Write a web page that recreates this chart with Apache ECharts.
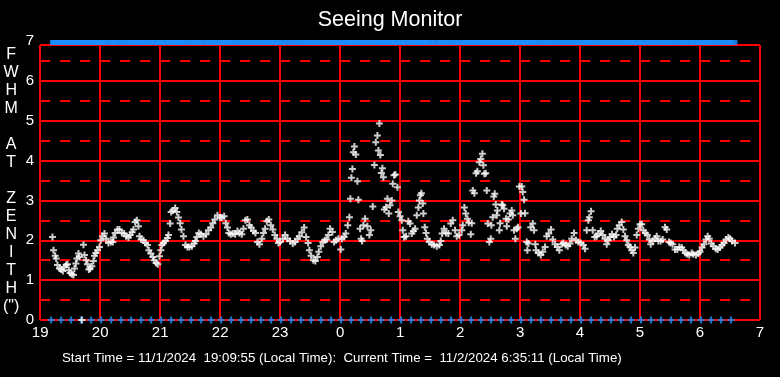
<!DOCTYPE html>
<html>
<head>
<meta charset="utf-8">
<script src="https://cdn.jsdelivr.net/npm/echarts@6/dist/echarts.min.js"></script>
<style>
    html, body { margin: 0; padding: 0; background: #000; }
    #chart { width: 780px; height: 377px; }
</style>
</head>
<body>
<div id="chart"></div>
<script>
// seeing samples: minutes after 19:00 and FWHM at zenith (arcsec)
const minutes = [
    12.3, 13.3, 15, 16, 17.3, 19.3, 21, 22.7, 24, 26, 27.3, 28.7, 30, 31.7, 33.3, 34.3, 35.7, 36.7, 38.3, 39.3,
    41.7, 43.3, 44.3, 46, 47.3, 48.7, 50, 51.7, 53.3, 54.3, 55.7, 57.3, 59.3, 60.7, 62.3, 64.3, 66, 68.3, 70.7, 72.7,
    73.3, 75, 77.3, 79.3, 81.7, 84, 86, 88.3, 90, 92, 93.3, 95, 96.7, 98.3, 99.3, 101, 103.3, 105.3, 107.3, 108.7,
    110.7, 112.7, 114, 116, 117.7, 119.3, 120.7, 121.7, 123.3, 125.3, 127.3, 128.3, 130, 131, 132.7, 135, 136.7, 138.3, 140, 141.3,
    143.3, 145.3, 147.3, 149.3, 151.7, 154, 155.3, 156.7, 158.7, 160.7, 163.3, 166, 168.3, 170.7, 172.7, 174.7, 177.3, 180, 181.7, 184,
    185.7, 187.3, 188.7, 190.7, 192.7, 195, 197.3, 199.3, 201.7, 203.3, 205.3, 207.3, 209.3, 211, 213.3, 215.3, 217.3, 219.3, 221.7, 223.3,
    225, 226.7, 228.7, 230.7, 232.7, 234.7, 236.7, 238.3,
    240, 242.7, 245, 247.3, 250, 252.7, 255, 257.3, 259.3, 261.7, 264, 266, 268, 269.3, 271, 273.3, 275.3, 277.3, 278.7, 280.7,
    282.7, 284.7, 286.7, 288.3, 290, 292.3, 294, 296, 298.3, 300.7, 301.7, 304, 305.7, 307.7, 309.3, 310.3, 311.3, 312.3, 313.3, 314.3,
    315.7, 317.3, 318.3, 320, 321, 322, 323.3, 325, 327.3, 329.3, 330.7, 332.7, 334.3, 335.7, 337.3, 339.3, 338.3, 340.3, 341.3, 342.3,
    343.3, 344.3, 346, 347.3, 348.7, 350, 351.7, 352.7, 354, 355.3, 357.3, 358.3, 360, 361.7, 362.7, 364, 366, 368.3, 370, 371.7,
    373.3, 375, 376.7, 378.3, 379.3, 380.3, 381.3, 382.7, 383.3, 384.7, 386, 387.3, 389.3, 391.7, 394, 396.7, 399.3, 400.7, 402, 404,
    406, 408.3, 410.7, 412.7, 415, 416.7, 419, 421.7, 422.7, 424.3, 425.7, 427.3, 428.7, 430.7, 431.7, 432.7, 434.3, 436, 437.3, 439.3,
    440.7, 442.3, 443.3, 444.3, 445.7, 446.7, 447.7, 449.3, 450.7, 451.3, 452.7, 453.7, 454.7, 455.7, 456.7, 457.3, 459.3, 460, 461.7, 462.7,
    464, 466, 466.7, 468.3, 470, 471.7, 472.7, 474, 475.3, 476.7, 478, 479.3,
    481, 481.7, 482.7, 484, 485, 486.7, 487.3, 488.3, 490.7, 492.7, 494, 495.3, 496, 498.3, 500.7, 502.7, 505, 506.7, 508.7, 511,
    512.7, 515, 517.3, 519.3, 521.7, 523.3, 525.7, 527.7, 530, 531.7, 534, 536, 538.3, 540.7, 543.3, 545, 546.7, 548.3, 549.3, 551,
    552.7, 554.7, 556.7, 558.3, 560.7, 562.7, 565, 566.7, 568.3, 570, 572, 574, 576, 577.3, 579.3, 581.7, 583.3, 585, 586.7, 588.3,
    590, 591.7, 593.3, 595, 596.7, 598.3, 600, 601.7, 603.3, 605.3, 607.3, 609.3, 610.7, 612.7, 615, 616.7, 618.3, 620.7, 622.7, 625,
    626.7, 629, 630.7, 632.7, 635, 637.3, 639.3, 641.7, 643.3, 645.3, 647.3, 649.3, 651.7, 653.3, 656, 658.3, 660, 662, 664, 666,
    667.7, 669.3, 671.3, 673.3, 675.7, 677.7, 680, 682, 684, 686, 688.3, 690, 692, 695
];
const fwhm = [
    2.08, 1.75, 1.61, 1.54, 1.38, 1.29, 1.27, 1.23, 1.33, 1.38, 1.4, 1.25, 1.18, 1.15, 1.13, 1.29, 1.42, 1.54, 1.67, 1.58,
    0, 1.89, 1.63, 1.5, 1.4, 1.27, 1.29, 1.35, 1.48, 1.61, 1.68, 1.75, 1.83, 2.0, 2.1, 2.17, 2.04, 1.93, 1.96, 1.96,
    2.07, 2.18, 2.27, 2.27, 2.18, 2.17, 2.1, 2.07, 2.13, 2.2, 2.27, 2.46, 2.5, 2.35, 2.1, 2.02, 2.0, 1.93, 1.88, 1.75,
    1.67, 1.58, 1.5, 1.43, 1.4, 1.6, 1.75, 1.88, 1.93, 1.98, 2.06, 2.13, 2.42, 2.71, 2.75, 2.81, 2.71, 2.57, 2.43, 2.27,
    2.1, 1.88, 1.83, 1.83, 1.85, 1.92, 1.98, 2.08, 2.18, 2.15, 2.1, 2.15, 2.25, 2.32, 2.43, 2.52, 2.63, 2.57, 2.57, 2.6,
    2.43, 2.32, 2.18, 2.15, 2.17, 2.15, 2.23, 2.18, 2.15, 2.29, 2.5, 2.52, 2.38, 2.32, 2.23, 2.18, 1.96, 1.9, 2.04, 2.18,
    2.29, 2.48, 2.52, 2.38, 2.27, 2.13, 2.04, 1.93,
    1.96, 2.04, 2.13, 2.04, 1.98, 1.92, 1.96, 2.04, 2.1, 2.2, 2.32, 2.08, 1.93, 1.75, 1.61, 1.5, 1.48, 1.58, 1.71, 1.85,
    1.96, 2.0, 2.02, 2.13, 2.29, 2.21, 1.96, 2.0, 2.04, 1.77, 2.04, 2.08, 2.17, 2.38, 2.58, 3.04, 3.57, 3.79, 4.21, 4.35,
    4.15, 3.48, 3.02, 2.29, 2.04, 1.98, 2.38, 2.54, 2.35, 2.13, 2.25, 2.85, 3.89, 4.46, 4.63, 4.93, 4.25, 4.14, 3.69, 3.81,
    3.58, 2.77, 2.83, 3.04, 2.67, 2.88, 3.0, 3.42, 3.63, 3.65, 3.33, 2.71, 2.6, 2.5, 2.25, 2.08, 2.1, 2.48, 2.42, 2.17,
    2.23, 2.29, 2.63, 2.82, 3.0, 3.13, 3.18, 2.92, 2.67, 2.33, 2.18, 2.04, 1.96, 1.9, 1.88, 1.85, 1.88, 1.98, 2.17, 2.29,
    2.18, 2.17, 2.42, 2.5, 2.25, 2.1, 2.13, 2.25, 2.38, 2.82, 2.67, 2.54, 2.44, 2.15, 2.43, 3.25, 3.18, 3.68, 3.73, 3.96,
    4.04, 4.17, 3.88, 3.67, 3.68, 3.25, 2.42, 1.96, 2.04, 2.38, 2.58, 3.1, 3.17, 2.9, 2.63, 2.75, 2.25, 2.43, 2.9, 2.88,
    2.79, 2.54, 2.35, 2.52, 2.67, 2.75, 2.63, 2.25, 2.04, 2.29, 2.33, 3.35,
    2.67, 3.35, 3.21, 3.02, 2.68, 1.96, 1.75, 1.92, 2.33, 2.42, 2.25, 1.9, 1.75, 1.68, 1.63, 1.71, 1.83, 2.1, 2.17, 2.27,
    2.02, 1.9, 1.83, 1.75, 1.9, 1.93, 1.88, 1.85, 1.92, 2.04, 2.18, 2.0, 1.96, 1.93, 1.88, 1.79, 2.25, 2.5, 2.58, 2.73,
    2.25, 2.08, 2.1, 2.17, 2.23, 2.13, 2.04, 1.9, 2.0, 2.08, 2.15, 2.08, 2.13, 2.29, 2.38, 2.46, 2.27, 2.1, 2.0, 1.88,
    1.83, 1.75, 1.68, 1.82, 2.13, 2.29, 2.4, 2.4, 2.25, 2.18, 2.13, 2.02, 1.9, 1.98, 2.04, 2.1, 1.98, 1.98, 2.02, 2.33,
    2.27, 1.96, 1.93, 1.9, 1.77, 1.77, 1.83, 1.82, 1.75, 1.68, 1.65, 1.63, 1.68, 1.65, 1.63, 1.67, 1.71, 1.82, 1.9, 2.02,
    2.1, 2.04, 1.92, 1.85, 1.79, 1.77, 1.82, 1.88, 1.93, 2.02, 2.07, 2.04, 1.98, 1.93
];
// blue status crosses on the zero line (minutes after 19:00)
const zeroMarks = [
    11, 21, 31, 41, 51, 61, 71, 81, 91, 101, 111, 121, 131, 141, 151, 161, 171, 181, 191, 201,
    211, 221, 231, 241, 251, 261, 271, 281, 291, 301, 311, 321, 331, 341, 351, 361, 371, 381, 391, 401,
    411, 421, 431, 441, 451, 461, 471, 481, 491, 501, 511, 521, 531, 541, 551, 561, 571, 581, 591, 601,
    611, 621, 631, 641, 651, 661, 671, 681, 691
];
const hourTicks = [19, 20, 21, 22, 23, 24, 25, 26, 27, 28, 29, 30, 31];
const solidLevels = [0, 1, 2, 3, 4, 5, 6, 6.9];
const dashedLevels = [0.5, 1.5, 2.5, 3.5, 4.5, 5.5, 6.5];
const topLevel = 7;

const RED = '#ff0000';
const BLUE = '#1e90ff';
const FONT = 'Liberation Sans, Arial, sans-serif';
const PLUS = 'path://M2.5,0H4.5V2.5H7V4.5H4.5V7H2.5V4.5H0V2.5H2.5Z';

const toHour = m => 19 + m / 60;

const gridLines = [];
solidLevels.forEach(v => gridLines.push({ yAxis: v, lineStyle: { color: RED, width: 2, type: 'solid' } }));
dashedLevels.forEach(v => gridLines.push({ yAxis: v, lineStyle: { color: RED, width: 2, type: [10, 10] } }));
hourTicks.forEach(h => gridLines.push([
    { coord: [h, 0], lineStyle: { color: RED, width: 2, type: 'solid' } },
    { coord: [h, 6.9] }
]));

const chart = echarts.init(document.getElementById('chart'));
chart.setOption({
    backgroundColor: '#000',
    animation: false,
    title: [{
        text: 'Seeing Monitor',
        left: 'center',
        top: 4,
        textStyle: { color: '#fff', fontSize: 21.5, fontWeight: 'normal', fontFamily: FONT }
    }, {
        text: 'Start Time = 11/1/2024  19:09:55 (Local Time):  Current Time =  11/2/2024 6:35:11 (Local Time)',
        left: 57,
        top: 347,
        textStyle: { color: '#fff', fontSize: 13.3, fontWeight: 'normal', fontFamily: FONT }
    }],
    grid: { left: 40, right: 20, top: 41, bottom: 57 },
    xAxis: {
        type: 'value',
        min: 19,
        max: 31,
        interval: 1,
        axisLine: { show: false },
        axisTick: { show: false },
        splitLine: { show: false },
        axisLabel: {
            color: '#fff',
            fontSize: 15,
            fontFamily: FONT,
            margin: 5,
            formatter: v => String(v % 24)
        }
    },
    yAxis: {
        type: 'value',
        min: 0,
        max: 7,
        interval: 1,
        name: 'F\nW\nH\nM\n\nA\nT\n\nZ\nE\nN\nI\nT\nH\n(")',
        nameLocation: 'middle',
        nameRotate: 0,
        nameGap: 29,
        nameTextStyle: {
            color: '#fff', fontSize: 16, fontFamily: FONT, lineHeight: 18,
            align: 'center', verticalAlign: 'middle'
        },
        axisLine: { show: false },
        axisTick: { show: false },
        splitLine: { show: false },
        axisLabel: { color: '#fff', fontSize: 15, fontFamily: FONT, margin: 6 }
    },
    series: [{
        type: 'scatter',
        data: [],
        silent: true,
        z: 1,
        markLine: {
            silent: true,
            animation: false,
            symbol: 'none',
            label: { show: false },
            data: gridLines
        }
    }, {
        type: 'scatter',
        name: 'status',
        symbol: 'rect',
        symbolSize: [5, 5],
        symbolOffset: [0, 1.5],
        itemStyle: { color: BLUE },
        clip: false,
        z: 5,
        data: minutes.map(m => [toHour(m), topLevel])
    }, {
        type: 'scatter',
        name: 'zero',
        symbol: PLUS,
        symbolSize: 7,
        itemStyle: { color: BLUE },
        z: 5,
        data: zeroMarks.map(m => [toHour(m), 0])
    }, {
        type: 'scatter',
        name: 'FWHM',
        symbol: PLUS,
        symbolSize: 7,
        itemStyle: { color: '#fff' },
        z: 6,
        data: minutes.map((m, i) => [toHour(m), fwhm[i]])
    }]
});
</script>
</body>
</html>
